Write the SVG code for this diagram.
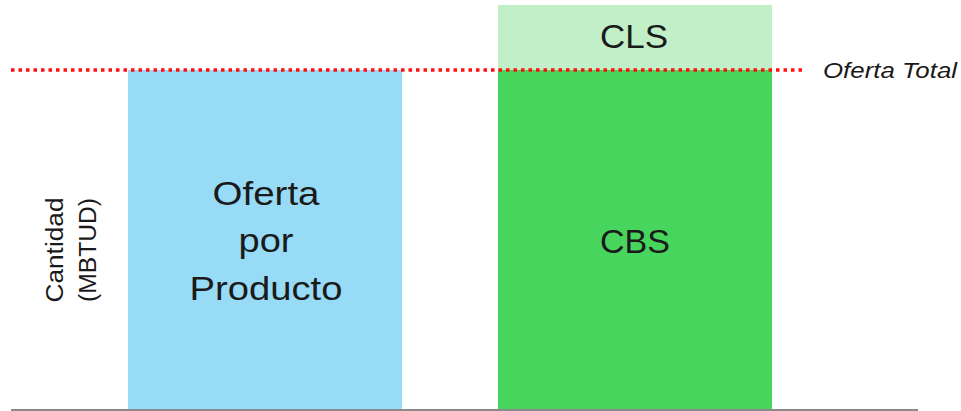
<svg xmlns="http://www.w3.org/2000/svg" width="961" height="411" viewBox="0 0 961 411">
<style>
.lbl{font-family:"Liberation Sans","Noto Sans",Arial,sans-serif;fill:#1a1a1a;text-anchor:middle}
.big{font-size:34px}
.ax{font-size:23px}
</style>
<rect width="961" height="411" fill="#ffffff"/>
<g id="oferta-producto">
<rect x="128" y="70" width="274" height="341" fill="#97DBF7"/>
<text class="lbl big" x="266" y="205" textLength="107" lengthAdjust="spacingAndGlyphs">Oferta</text>
<text class="lbl big" x="266" y="252" textLength="55" lengthAdjust="spacingAndGlyphs">por</text>
<text class="lbl big" x="266" y="300" textLength="153" lengthAdjust="spacingAndGlyphs">Producto</text>
</g>
<g id="cbs">
<rect x="498" y="70" width="274" height="341" fill="#48D55E"/>
<text class="lbl big" x="635" y="253" textLength="70" lengthAdjust="spacingAndGlyphs">CBS</text>
</g>
<g id="cls">
<rect x="498" y="5" width="274" height="65" fill="#C1EFC7"/>
<text class="lbl big" x="634" y="48" textLength="68" lengthAdjust="spacingAndGlyphs">CLS</text>
</g>
<g id="axis-label">
<text class="lbl ax" transform="translate(63,250) rotate(-90)" textLength="105" lengthAdjust="spacingAndGlyphs">Cantidad</text>
<text class="lbl ax" transform="translate(96,250) rotate(-90)" textLength="104" lengthAdjust="spacingAndGlyphs">(MBTUD)</text>
</g>
<g id="connectors">
<line x1="11" y1="410" x2="918" y2="410" stroke="#8a8a8a" stroke-width="2"/>
<line x1="11" y1="70" x2="806" y2="70" stroke="#FF1010" stroke-width="3.5" stroke-dasharray="3.5 4"/>
</g>
<g id="oferta-total">
<text x="823" y="78" font-family="Liberation Sans, Noto Sans, sans-serif" font-style="italic" font-size="22" fill="#1a1a1a" textLength="134" lengthAdjust="spacingAndGlyphs">Oferta Total</text>
</g>
</svg>
